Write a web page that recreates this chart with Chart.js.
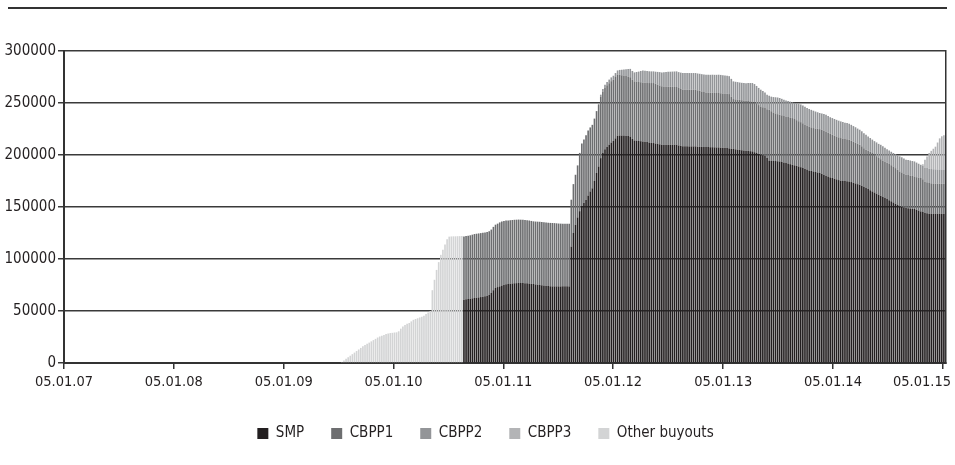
<!DOCTYPE html>
<html>
<head>
<meta charset="utf-8">
<script src="https://cdn.jsdelivr.net/npm/chart.js@4/dist/chart.umd.min.js"></script>
<style>
  html, body { margin: 0; padding: 0; background: #fff; }
  #wrap { width: 955px; height: 465px; position: relative; }
</style>
</head>
<body>
<div id="wrap"><canvas id="buyoutChart"></canvas></div>
<script>
// weekly series, first week is 05.01.07; each series starts at its own week index
const firstWeek = new Date(2007, 0, 5);
const tickLabels = ['05.01.07', '05.01.08', '05.01.09', '05.01.10', '05.01.11', '05.01.12', '05.01.13', '05.01.14', '05.01.15'];
const yTicks = [0, 50000, 100000, 150000, 200000, 250000, 300000];
const seriesNames = ['SMP', 'CBPP1', 'CBPP2', 'CBPP3', 'Other buyouts'];

const otherStart = 132;
const other = [
  1000, 2500, 4000, 5500, 7000, 8500, 10000, 11500, 13000, 14500,
  16000, 17200, 18400, 19600, 20800, 22000, 23200, 24500, 25500, 26300,
  27000, 27800, 28400, 28800, 29000, 29300, 29500, 30500, 33000, 35000,
  36500, 37800, 38500, 40000, 41500, 42300, 43000, 43800, 44500, 45500,
  47000, 48500, 50000, 70000, 80000, 89500, 97000, 104000, 109000, 114000,
  119000, 121500, 121700, 121800, 121800, 121900, 122000, 122000
];

const smpStart = 190;
const smp = [
  60900, 61200, 61500, 61800, 62200, 62500, 62800, 63100, 63400, 63800,
  64100, 64500, 65500, 67300, 70000, 72100, 73000, 73700, 74500, 75200,
  75800, 76000, 76300, 76500, 76700, 76800, 76900, 76900, 76900, 76800,
  76600, 76400, 76200, 76000, 75600, 75300, 75000, 74700, 74500, 74200,
  74000, 73800, 73700, 73700, 73700, 73700, 73700, 73700, 73700, 73700,
  73700, 112000, 125000, 133000, 140000, 146000, 151000, 154000, 157000, 161000,
  165000, 168000, 175000, 182700, 189000, 197000, 202000, 205500, 208000, 210000,
  212000, 213500, 216000, 218500, 218800, 218800, 218700, 218500, 218200, 217800,
  215500, 214000, 213800, 213500, 213300, 213100, 212700, 212400, 212000, 211700,
  211500, 211100, 210700, 210300, 209900, 209900, 209900, 209900, 209900, 209900,
  209900, 209900, 209200, 208700, 208300, 208300, 208300, 208300, 208300, 208300,
  208300, 208000, 207900, 207800, 207700, 207700, 207600, 207500, 207500, 207400,
  207300, 207300, 207100, 207000, 206900, 206700, 206400, 206100, 205800, 205500,
  205200, 204900, 204600, 204400, 204200, 204000, 203700, 203500, 202700, 201900,
  201000, 200300, 199800, 199300, 197000, 194800, 194600, 194400, 194200, 194000,
  193800, 193300, 192800, 192300, 191800, 191200, 190600, 190100, 189500, 189000,
  188300, 187500, 186800, 186000, 185200, 184700, 184200, 183700, 183200, 182700,
  181900, 181000, 180100, 179300, 178500, 177900, 177200, 176600, 175900, 175300,
  175100, 174900, 174800, 174600, 174000, 173300, 172700, 172000, 171400, 170400,
  169300, 168300, 167200, 166100, 165000, 164000, 162900, 161800, 160800, 159700,
  158700, 157600, 156500, 155500, 154400, 153100, 151900, 150600, 150100, 149500,
  149000, 148800, 148600, 148300, 148100, 147400, 146600, 145800, 145200, 144200,
  143900, 143600, 143600, 143500, 143500, 143500, 143500, 143500, 143500
];

const cbpp1Start = 190;
const cbpp1 = [
  60800, 60800, 60900, 61000, 61200, 61500, 61500, 61500, 61500, 61500,
  61500, 61400, 61200, 61000, 60900, 60900, 61000, 61500, 61500, 61300,
  61200, 61100, 61000, 61000, 61000, 61000, 61000, 60900, 60900, 60800,
  60700, 60600, 60400, 60200, 60400, 60600, 60800, 60900, 60900, 60900,
  60900, 60900, 60900, 60800, 60600, 60400, 60300, 60200, 60200, 60200,
  60200, 45000, 47000, 48000, 50000, 56000, 60000, 61000, 62000, 62500,
  61500, 61000, 60000, 59500, 59200, 59000, 59000, 59000, 59000, 59000,
  59000, 59000, 59000, 58900, 58500, 58000, 57700, 57500, 57300, 57000,
  56900, 56800, 56800, 56700, 56700, 56700, 56700, 56900, 57200, 57500,
  57700, 57400, 57000, 56600, 56200, 56000, 55900, 55800, 55700, 55600,
  55500, 55500, 55200, 54800, 54500, 54500, 54500, 54500, 54500, 54500,
  54500, 54200, 53800, 53300, 52800, 52500, 52500, 52400, 52400, 52300,
  52300, 52300, 52300, 52200, 52200, 52200, 52200, 50000, 48000, 48000,
  48100, 48100, 48100, 48100, 48000, 48000, 48000, 48000, 48000, 47500,
  47000, 46400, 46200, 45900, 47000, 48700, 47500, 46500, 45800, 45300,
  44900, 44900, 44800, 44800, 44800, 44900, 44900, 44500, 44000, 43500,
  43300, 43000, 42600, 42300, 42100, 41900, 41700, 41800, 42000, 42200,
  42300, 42500, 42600, 42200, 41800, 41600, 41400, 41200, 41100, 41000,
  40800, 40500, 40300, 40100, 39800, 39500, 39200, 38800, 38500, 38000,
  37300, 36800, 36800, 36900, 36900, 36500, 36000, 35300, 35200, 35100,
  35100, 35000, 34900, 34700, 34600, 34300, 34000, 33600, 33200, 32700,
  32100, 31900, 31700, 31500, 31300, 31300, 31700, 32100, 31500, 30400,
  30000, 29500, 29200, 29100, 29000, 28900, 28900, 28900, 28900
];

const cbpp2Start = 254;
const cbpp2 = [
  1000, 2000, 2500, 3000, 3300, 3500, 3600, 3700, 3800, 3900,
  4500, 5200, 5800, 6500, 7300, 8000, 8400, 8600, 9200, 10000,
  10800, 11500, 11500, 11400, 11300, 11200, 11200, 11600, 12200, 12800,
  13300, 13700, 14000, 14300, 14500, 14700, 14900, 15000, 15300, 15700,
  16000, 16000, 16000, 16000, 16000, 16000, 16000, 16200, 16400, 16600,
  16800, 17000, 17100, 17200, 17300, 17400, 17500, 17600, 17600, 17500,
  17400, 17300, 17200, 17100, 17000, 16900, 16800, 16700, 16700, 16700,
  16900, 17200, 17500, 17700, 17500, 17000, 16500, 16100, 15500, 14800,
  14000, 13500, 14000, 14800, 15500, 16000, 16100, 15800, 15600, 15400,
  15300, 15200, 15100, 15500, 16000, 16500, 17000, 17000, 17000, 17000,
  16900, 16800, 16700, 16300, 15900, 15500, 15700, 15900, 16000, 16000,
  16000, 16000, 16000, 16000, 16000, 16000, 15900, 15700, 15600, 15400,
  15200, 15000, 14800, 14600, 14400, 14400, 14400, 14400, 13900, 13300,
  12900, 12800, 13200, 13600, 13800, 13500, 13200, 12900, 12900, 12900,
  12900, 13400, 14000, 14500, 14500, 14400, 14400, 14400, 14400, 14400,
  14400, 14000, 13300, 12700, 13000, 13500, 13700, 13700, 13700, 13700,
  13700, 13700, 13700, 13700, 13700
];

const cbpp3Start = 408;
const cbpp3 = [1300, 7400, 10900, 15100, 17500, 19700, 21800, 25900, 29900, 31900, 32900];

const colors = ['#231f20', '#6d6e70', '#939598', '#b3b4b6', '#d3d4d5'];

const DAY = 86400000;
function dayOf(label) {
  const [d, m, y] = label.split('.').map(Number);
  return Math.round((new Date(2000 + y, m - 1, d) - firstWeek) / DAY);
}
const tickDays = tickLabels.map(dayOf);

// turn a series into {x: day, y} points for the linear time axis
function toPoints(values, startWeek) {
  return values.map((v, i) => ({ x: (startWeek + i) * 7, y: v }));
}

const seriesData = [
  toPoints(smp, smpStart),
  toPoints(cbpp1, cbpp1Start),
  toPoints(cbpp2, cbpp2Start),
  toPoints(cbpp3, cbpp3Start),
  toPoints(other, otherStart)
];

const font = "'DejaVu Sans Condensed', 'Liberation Sans Narrow', 'Roboto', sans-serif";
const ink = '#333';

// thin rule across the top of the figure, legend nudged right like the original
const frameExtras = {
  id: 'frameExtras',
  afterLayout(chart) {
    chart.legend.left += 8;
    chart.legend.right += 8;
  },
  afterDraw(chart) {
    const c = chart.ctx;
    c.save();
    c.strokeStyle = ink;
    c.lineWidth = 2;
    c.beginPath();
    c.moveTo(8, 8);
    c.lineTo(947, 8);
    c.stroke();
    c.restore();
  }
};

new Chart(document.getElementById('buyoutChart'), {
  type: 'bar',
  data: {
    datasets: seriesNames.map((name, i) => ({
      label: name,
      data: seriesData[i],
      backgroundColor: colors[i],
      borderWidth: 0,
      barPercentage: 0.78,
      categoryPercentage: 1.0
    }))
  },
  options: {
    responsive: true,
    maintainAspectRatio: false,
    animation: false,
    events: [],
    layout: { padding: { left: 0, right: 0, top: 51, bottom: 14 } },
    scales: {
      x: {
        type: 'linear',
        stacked: true,
        offset: false,
        min: 0,
        max: 2933,
        afterBuildTicks: axis => { axis.ticks = tickDays.map(v => ({ value: v })); },
        afterFit: axis => { axis.height = 36; axis.paddingLeft = 0; axis.paddingRight = 0; },
        grid: { offset: false, drawOnChartArea: false, drawTicks: true, tickLength: 6, color: ink, lineWidth: 1.5 },
        border: { display: true, color: ink, width: 2 },
        ticks: {
          autoSkip: false,
          maxRotation: 0,
          padding: 5,
          color: '#231f20',
          font: { family: font, size: 14.5 },
          callback: (value, index) => index === tickLabels.length - 1 ? tickLabels[index] + '          ' : tickLabels[index]
        }
      },
      y: {
        stacked: true,
        min: 0,
        max: 300000,
        afterBuildTicks: axis => { axis.ticks = yTicks.map(v => ({ value: v })); },
        afterFit: axis => { axis.width = 64; },
        grid: { color: '#3a3a3a', lineWidth: 1.5, drawTicks: true, tickLength: 6 },
        border: { display: true, color: ink, width: 2 },
        ticks: {
          padding: 2,
          color: '#231f20',
          font: { family: font, size: 15 },
          callback: value => String(value)
        }
      },
      yRight: {
        position: 'right',
        min: 0,
        max: 300000,
        afterFit: axis => { axis.width = 9; },
        grid: { display: false },
        ticks: { display: false },
        border: { display: true, color: ink, width: 1.5 }
      }
    },
    plugins: {
      tooltip: { enabled: false },
      legend: {
        position: 'bottom',
        labels: {
          boxWidth: 11,
          boxHeight: 11,
          padding: 27,
          color: '#231f20',
          font: { family: font, size: 15 }
        }
      }
    }
  },
  plugins: [frameExtras]
});
</script>
</body>
</html>
